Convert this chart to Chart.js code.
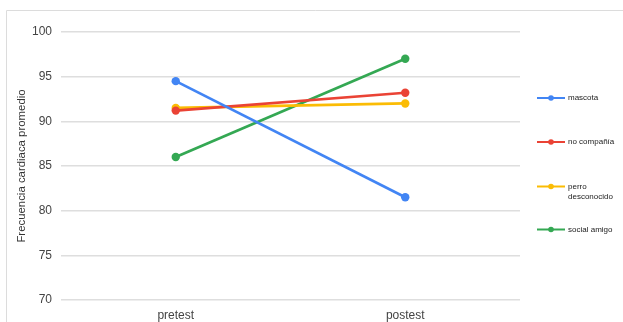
<!DOCTYPE html>
<html>
<head>
<meta charset="utf-8">
<script src="https://cdn.jsdelivr.net/npm/chart.js@4/dist/chart.umd.min.js"></script>
<style>
  html, body { margin: 0; padding: 0; background: #fff; }
  #wrap { width: 623px; height: 322px; position: relative; }
</style>
</head>
<body>
<div id="wrap"><canvas id="c" width="623" height="322"></canvas></div>
<script>
// Categories and mean heart-rate per condition
const categories = ['pretest', 'postest'];
const seriesNames = ['mascota', 'no compañía', 'perro desconocido', 'social amigo'];
const mascota = [94.5, 81.5];
const noCompania = [91.2, 93.2];
const perroDesconocido = [91.5, 92.0];
const socialAmigo = [86.0, 97.0];
const yTicks = [70, 75, 80, 85, 90, 95, 100];

const colors = ['#4285f4', '#ea4335', '#fbbc04', '#34a853'];
const values = [mascota, noCompania, perroDesconocido, socialAmigo];
// legend label lines (the long one wraps)
const legendLines = [['mascota'], ['no compañía'], ['perro', 'desconocido'], ['social amigo']];

const FONT = "'Liberation Sans', Arial, sans-serif";

// Light frame around the chart
const framePlugin = {
  id: 'frame',
  beforeDraw(chart) {
    const ctx = chart.ctx;
    ctx.save();
    ctx.strokeStyle = '#dcdcdc';
    ctx.lineWidth = 1;
    ctx.beginPath();
    ctx.moveTo(6.5, 340);
    ctx.lineTo(6.5, 10.5);
    ctx.lineTo(640, 10.5);
    ctx.stroke();
    ctx.restore();
  }
};

// Right-hand legend: line with a dot, then the label
const sideLegend = {
  id: 'sideLegend',
  afterDraw(chart) {
    const ctx = chart.ctx;
    const rows = [98, 142, 186.5, 229.5];
    ctx.save();
    ctx.font = '8px ' + FONT;
    ctx.textBaseline = 'middle';
    ctx.textAlign = 'left';
    chart.data.datasets.forEach((ds, i) => {
      const y = rows[i];
      ctx.strokeStyle = ds.borderColor;
      ctx.lineWidth = 2;
      ctx.beginPath();
      ctx.moveTo(537, y);
      ctx.lineTo(565, y);
      ctx.stroke();
      ctx.fillStyle = ds.borderColor;
      ctx.beginPath();
      ctx.arc(551, y, 2.8, 0, Math.PI * 2);
      ctx.fill();
      ctx.fillStyle = '#222';
      legendLines[i].forEach((t, k) => ctx.fillText(t, 568, y + k * 10));
    });
    ctx.restore();
  }
};

new Chart(document.getElementById('c'), {
  type: 'line',
  data: {
    labels: categories,
    datasets: seriesNames.map((name, i) => ({
      label: name,
      data: values[i],
      borderColor: colors[i],
      backgroundColor: colors[i],
      borderWidth: 2.7,
      pointRadius: 4.2,
      pointHoverRadius: 4.2,
      pointBorderWidth: 0,
      tension: 0,
      fill: false
    }))
  },
  options: {
    responsive: false,
    animation: false,
    devicePixelRatio: 1,
    layout: { padding: { left: 0, right: 103, top: 32, bottom: 0 } },
    plugins: {
      legend: { display: false },
      tooltip: { enabled: false }
    },
    scales: {
      x: {
        offset: true,
        grid: { display: false, drawTicks: false },
        border: { display: false },
        ticks: { color: '#444', font: { family: FONT, size: 12 }, padding: 8 },
        afterFit(scale) { scale.height = 22; }
      },
      y: {
        min: 70,
        max: 100,
        afterBuildTicks(scale) { scale.ticks = yTicks.map(v => ({ value: v })); },
        grid: { color: '#dedede', lineWidth: 1.5, drawTicks: false },
        border: { display: false },
        ticks: { color: '#444', font: { family: FONT, size: 12 }, padding: 9 },
        title: {
          display: true,
          text: 'Frecuencia cardiaca promedio',
          color: '#333',
          font: { family: FONT, size: 11.4 },
          padding: { top: 15, bottom: 0 }
        },
        afterFit(scale) { scale.width = 61; }
      }
    }
  },
  plugins: [framePlugin, sideLegend]
});
</script>
</body>
</html>
